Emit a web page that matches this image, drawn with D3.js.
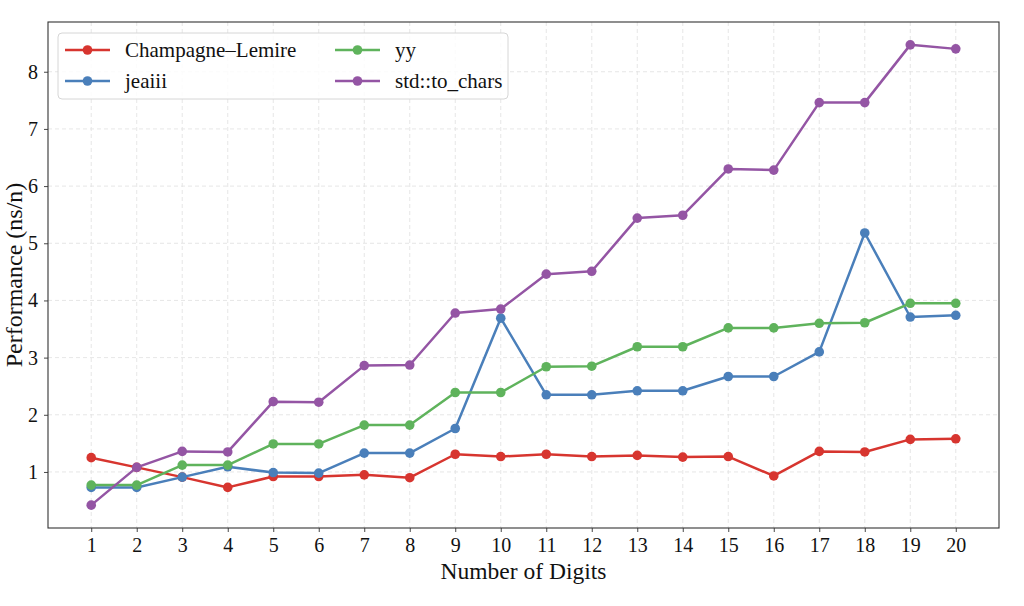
<!DOCTYPE html>
<html><head><meta charset="utf-8">
<script src="https://cdn.jsdelivr.net/npm/d3@7"></script>
<style>body{margin:0;background:#fff}svg{display:block}</style>
</head><body><svg id="c" width="1024" height="606"></svg>
<script>
const digits = [1,2,3,4,5,6,7,8,9,10,11,12,13,14,15,16,17,18,19,20];
const champagneLemire = [1.25,1.08,0.91,0.73,0.92,0.92,0.95,0.90,1.31,1.27,1.31,1.27,1.29,1.26,1.27,0.93,1.36,1.35,1.57,1.58];
const jeaiii = [0.73,0.73,0.91,1.09,0.99,0.98,1.33,1.33,1.76,3.69,2.35,2.35,2.42,2.42,2.67,2.67,3.10,5.18,3.71,3.74];
const yy = [0.77,0.77,1.12,1.12,1.49,1.49,1.82,1.82,2.39,2.39,2.84,2.85,3.19,3.19,3.52,3.52,3.60,3.61,3.95,3.95];
const stdToChars = [0.42,1.08,1.36,1.35,2.23,2.22,2.86,2.87,3.78,3.85,4.46,4.51,5.44,5.49,6.30,6.28,7.46,7.46,8.47,8.40];
const seriesNames = ["Champagne\u2013Lemire","jeaiii","yy","std::to_chars"];
const seriesColors = ["#d7352f","#4a7fba","#5fb35c","#9455a4"];
const yTicks = [1,2,3,4,5,6,7,8];

const series = [champagneLemire, jeaiii, yy, stdToChars].map((v,i)=>({name:seriesNames[i], color:seriesColors[i], values:v}));

const svg = d3.select("#c");
const L=48, R=999, T=22, B=528;
const font = "'Liberation Serif','DejaVu Serif',serif";
const x = d3.scaleLinear().domain([0.05,20.95]).range([L,R]);
const y = d3.scaleLinear().domain([0.02,8.87]).range([B,T]);

// grid
const g = svg.append("g");
g.selectAll("line.vx").data(digits).join("line")
  .attr("x1",d=>x(d)).attr("x2",d=>x(d)).attr("y1",T).attr("y2",B)
  .attr("stroke","#e3e3e3").attr("stroke-width",0.9).attr("stroke-dasharray","4,3");
g.selectAll("line.hy").data(yTicks).join("line")
  .attr("x1",L).attr("x2",R).attr("y1",d=>y(d)).attr("y2",d=>y(d))
  .attr("stroke","#e3e3e3").attr("stroke-width",0.9).attr("stroke-dasharray","4,3");

// axes
const xAxis = svg.append("g").attr("transform",`translate(0,${B})`)
  .call(d3.axisBottom(x).tickValues(digits).tickFormat(d3.format("d")).tickSize(4).tickPadding(6));
const yAxis = svg.append("g").attr("transform",`translate(${L},0)`)
  .call(d3.axisLeft(y).tickValues(yTicks).tickFormat(d3.format("d")).tickSize(4).tickPadding(6));
[xAxis,yAxis].forEach(a=>{
  a.select(".domain").remove();
  a.selectAll("line").attr("stroke","#333").attr("stroke-width",0.9);
  a.selectAll("text").attr("font-family",font).attr("font-size",20).attr("fill","#111");
});

// frame
svg.append("rect").attr("x",L).attr("y",T).attr("width",R-L).attr("height",B-T)
  .attr("fill","none").attr("stroke","#333").attr("stroke-width",1.1);

// lines
const line = d3.line().x((d,i)=>x(digits[i])).y(d=>y(d));
const sg = svg.append("g").selectAll("g").data(series).join("g");
sg.append("path").attr("d",d=>line(d.values)).attr("fill","none")
  .attr("stroke",d=>d.color).attr("stroke-width",2.5).attr("stroke-linejoin","round");
sg.selectAll("circle").data(d=>d.values.map(v=>({v,c:d.color}))).join("circle")
  .attr("cx",(d,i)=>x(digits[i])).attr("cy",d=>y(d.v)).attr("r",4.8).attr("fill",d=>d.c);

// legend
const lg = svg.append("g");
lg.append("rect").attr("x",58).attr("y",33).attr("width",450).attr("height",66).attr("rx",4)
  .attr("fill","#fff").attr("fill-opacity",0.85).attr("stroke","#d6d6d6").attr("stroke-width",1);
const pos = [[65,50],[65,81],[335,50],[335,81]];
series.forEach((s,i)=>{
  const [lx,ly]=pos[i];
  lg.append("line").attr("x1",lx).attr("x2",lx+45).attr("y1",ly).attr("y2",ly).attr("stroke",s.color).attr("stroke-width",2.5);
  lg.append("circle").attr("cx",lx+22.5).attr("cy",ly).attr("r",4.8).attr("fill",s.color);
  lg.append("text").attr("x",lx+60).attr("y",ly).attr("dy","0.35em").attr("font-family",font)
    .attr("font-size",21).attr("fill","#111").text(s.name);
});

// axis labels
svg.append("text").attr("x",(L+R)/2).attr("y",579).attr("text-anchor","middle")
  .attr("font-family",font).attr("font-size",23.5).attr("fill","#111").text("Number of Digits");
svg.append("text").attr("transform",`translate(22,${(T+B)/2}) rotate(-90)`).attr("text-anchor","middle")
  .attr("font-family",font).attr("font-size",24).attr("fill","#111").text("Performance (ns/n)");
</script></body></html>
